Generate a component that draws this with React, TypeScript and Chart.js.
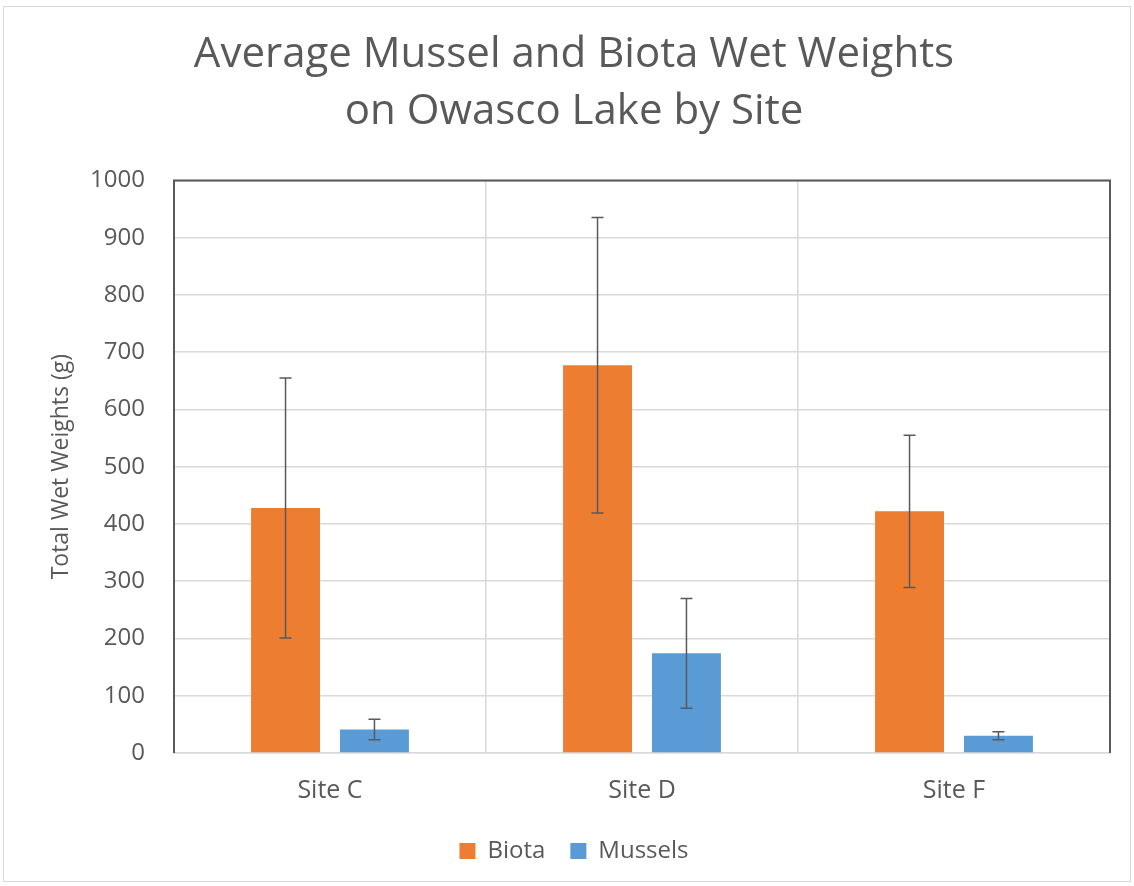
import React, { useEffect, useRef } from "react";
import { Chart, registerables } from "chart.js";

Chart.register(...registerables);

const categories = ["Site C", "Site D", "Site F"];
const biota = [428, 677, 422];
const biotaErr = [227, 258, 133];
const mussels = [41, 174, 30];
const musselsErr = [18, 96, 7];
const yTicks = [0, 100, 200, 300, 400, 500, 600, 700, 800, 900, 1000];

const TEXT = "#595959";
const FONT = "'Open Sans', 'Liberation Sans', sans-serif";

const errorBarPlugin = {
  id: "errorBars",
  afterDatasetsDraw(chart: any) {
    const errs = [biotaErr, musselsErr];
    const ctx = chart.ctx;
    const y = chart.scales.y;
    ctx.save();
    ctx.strokeStyle = "#595959";
    ctx.lineWidth = 1.5;
    chart.data.datasets.forEach((ds: any, i: number) => {
      const meta = chart.getDatasetMeta(i);
      meta.data.forEach((bar: any, j: number) => {
        const v = ds.data[j];
        const e = errs[i][j];
        const yt = y.getPixelForValue(v + e);
        const yb = y.getPixelForValue(v - e);
        const x = bar.x;
        ctx.beginPath();
        ctx.moveTo(x, yt);
        ctx.lineTo(x, yb);
        ctx.moveTo(x - 6, yt);
        ctx.lineTo(x + 6, yt);
        ctx.moveTo(x - 6, yb);
        ctx.lineTo(x + 6, yb);
        ctx.stroke();
      });
    });
    ctx.restore();
  },
};

const framePlugin = {
  id: "frame",
  afterDraw(chart: any) {
    const { left, right, top, bottom } = chart.chartArea;
    const ctx = chart.ctx;
    ctx.save();
    ctx.strokeStyle = "#595959";
    ctx.lineWidth = 2;
    ctx.beginPath();
    ctx.moveTo(left, bottom);
    ctx.lineTo(left, top);
    ctx.lineTo(right, top);
    ctx.lineTo(right, bottom);
    ctx.stroke();
    ctx.restore();
  },
};

export default function App() {
  const ref = useRef<HTMLCanvasElement>(null);
  useEffect(() => {
    if (!ref.current) return;
    const chart = new Chart(ref.current, {
      type: "bar",
      data: {
        labels: categories,
        datasets: [
          {
            label: "Biota",
            data: biota,
            backgroundColor: "#ED7D31",
            categoryPercentage: 0.57,
            barPercentage: 0.775,
          },
          {
            label: "Mussels",
            data: mussels,
            backgroundColor: "#5B9BD5",
            categoryPercentage: 0.57,
            barPercentage: 0.775,
          },
        ],
      },
      options: {
        animation: false,
        responsive: false,
        maintainAspectRatio: false,
        layout: { padding: { left: 38, right: 24, top: 27, bottom: 13 } },
        plugins: {
          title: {
            display: true,
            text: ["Average Mussel and Biota Wet Weights", "on Owasco Lake by Site"],
            color: TEXT,
            font: { family: FONT, size: 42, weight: "normal", lineHeight: 1.35 },
            padding: { top: 0, bottom: 40 },
          },
          legend: {
            position: "bottom",
            labels: {
              color: TEXT,
              font: { family: FONT, size: 24 },
              boxWidth: 16,
              boxHeight: 16,
              padding: 25,
            },
          },
          tooltip: { enabled: false },
        },
        scales: {
          x: {
            grid: { color: "#d9d9d9", lineWidth: 1.5, drawTicks: false, offset: true },
            border: { color: "#d9d9d9", width: 1.5 },
            ticks: { color: TEXT, font: { family: FONT, size: 25 }, padding: 23 },
            afterFit: (axis: any) => {
              axis.height = axis.height - 15;
            },
          },
          y: {
            min: 0,
            max: 1000,
            afterBuildTicks: (axis: any) => {
              axis.ticks = yTicks.map((v) => ({ value: v }));
            },
            afterFit: (axis: any) => {
              axis.width = 136;
            },
            grid: { color: "#d9d9d9", lineWidth: 1.5, drawTicks: false },
            border: { display: false },
            ticks: {
              color: TEXT,
              font: { family: FONT, size: 24 },
              padding: 29,
              callback: (v: any) => String(v),
            },
            title: {
              display: true,
              text: "Total Wet Weights (g)",
              color: TEXT,
              font: { family: FONT, size: 23 },
              padding: { top: 10, bottom: 12 },
            },
          },
        },
      },
      plugins: [errorBarPlugin, framePlugin],
    });
    return () => chart.destroy();
  }, []);
  return (
    <div style={{ position: "absolute", left: 0, top: 0, width: 1134, height: 886, background: "#fff" }}>
      <div
        style={{
          position: "absolute",
          left: 3,
          top: 6,
          width: 1128,
          height: 876,
          border: "1.5px solid #d9d9d9",
          boxSizing: "border-box",
        }}
      />
      <canvas ref={ref} width={1134} height={886} style={{ position: "absolute", left: 0, top: 0 }} />
    </div>
  );
}
